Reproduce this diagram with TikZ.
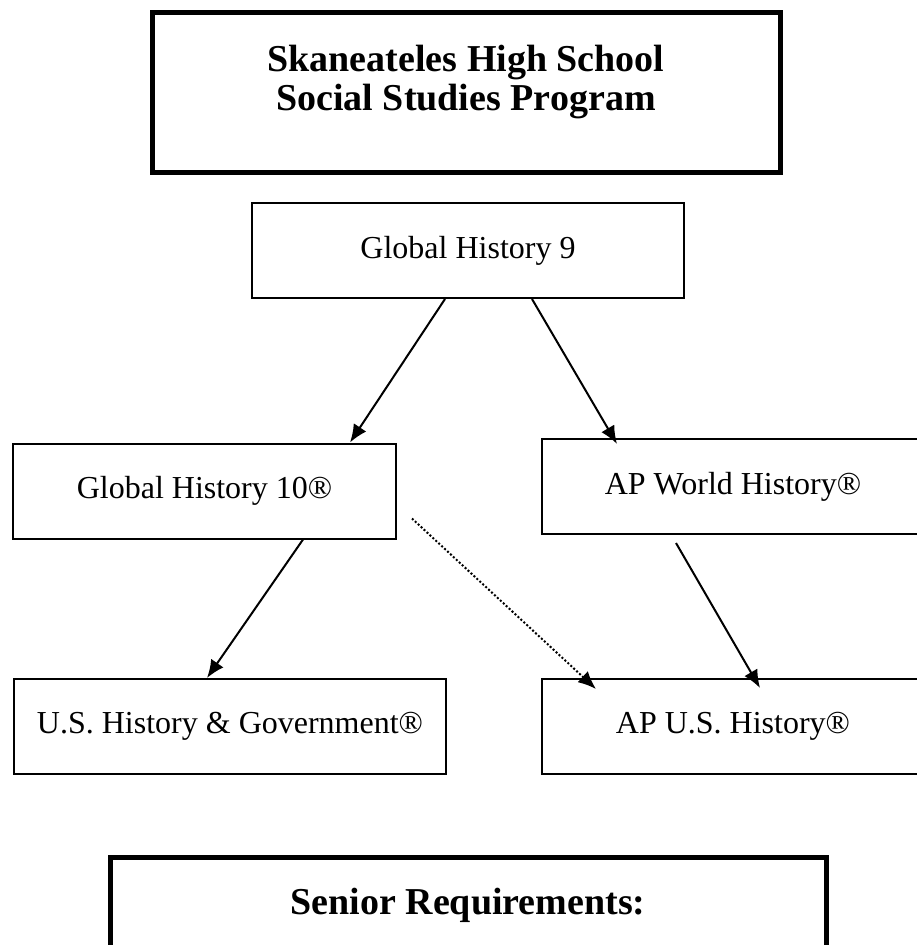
\documentclass[tikz,border=0pt]{standalone}
\usepackage{fontspec}
\setmainfont{Liberation Serif}
\usepackage{tikz}
\usetikzlibrary{arrows.meta,positioning}
\tikzset{
  % thick frames round the two headings
  frame box/.style={draw, line width=5pt, inner sep=0pt},
  % heading text
  frame text/.style={inner sep=0pt, align=center, font=\fontsize{38}{39}\selectfont\bfseries},
  % one box per course
  course box/.style={draw, line width=2pt, inner sep=0pt, minimum height=95pt,
    font=\fontsize{32}{38}\selectfont},
  % arrows between the courses
  course arrow/.style={-{Latex[length=18pt,width=15pt]}, line width=2pt},
  option arrow/.style={course arrow, dash pattern=on 2pt off 2pt},
}

\begin{document}
\begin{tikzpicture}[x=1pt, y=-1pt]
                \useasboundingbox (0,0) rectangle (917,945);
                \clip (0,0) rectangle (917,945);

                \node[frame box, minimum width=628pt, minimum height=160pt] (title) at (466,92) {};
                \node[frame text] (titletext) at (466,82) {Skaneateles High School\\Social Studies Program};

                \node[course box, minimum width=432pt] (gh9) at (468,250.5) {Global History 9};

                \node[course box, minimum width=383pt] (gh10) at (204.5,491) {Global History 10®};
                \node[course box, minimum width=382pt] (apwh) at (733,486.5) {AP World History®};

                \node[course box, minimum width=432pt] (ushg) at (230,726.5) {U.S. History \& Government®};
                \node[course box, minimum width=382pt] (apush) at (733,726.5) {AP U.S. History®};

                \node[frame box, minimum width=716pt, minimum height=160pt] (senior) at (468,937.5) {};
                \node[frame text] (seniortext) at (468,905.5) {Senior Requirements:};

                \draw[course arrow] ([xshift=-23pt]gh9.south) -- ([xshift=145.5pt]gh10.north);
                \draw[course arrow] ([xshift=64pt]gh9.south) -- ([xshift=-116pt, yshift=-6pt]apwh.north);
                \draw[course arrow] ([xshift=98.5pt]gh10.south) -- ([xshift=-23pt]ushg.north);
                \draw[course arrow] ([xshift=-57pt, yshift=-8pt]apwh.south) -- ([xshift=27pt, yshift=-10pt]apush.north);
                %\draw[option arrow] (gh10) -- (apush);
                \draw[option arrow] ([xshift=15pt, yshift=21pt]gh10.south east) -- ([xshift=55pt, yshift=-11pt]apush.north west);
            \end{tikzpicture}
\end{document}
